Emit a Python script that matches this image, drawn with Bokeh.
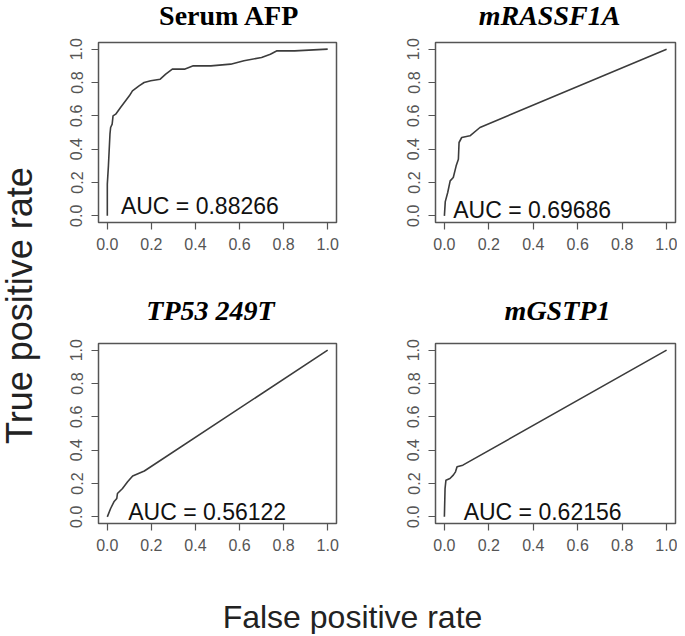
from math import pi
from bokeh.plotting import figure
from bokeh.layouts import row, column
from bokeh.models import Label, FixedTicker, Range1d
from bokeh.embed import file_html
from bokeh.resources import INLINE

# ---- data ----
titles = ["Serum AFP", "mRASSF1A", "TP53 249T", "mGSTP1"]
title_styles = ["bold", "bold italic", "bold italic", "bold italic"]
auc_labels = ["AUC = 0.88266", "AUC = 0.69686", "AUC = 0.56122", "AUC = 0.62156"]
tick_values = [0.0, 0.2, 0.4, 0.6, 0.8, 1.0]
tick_labels = ["0.0", "0.2", "0.4", "0.6", "0.8", "1.0"]

afp_fpr = [0.0, 0.0, 0.005, 0.012, 0.015, 0.022, 0.026, 0.038, 0.06, 0.083, 0.1, 0.114,
           0.144, 0.167, 0.197, 0.24, 0.265, 0.295, 0.35, 0.39, 0.47, 0.56, 0.62, 0.70,
           0.74, 0.77, 0.85, 1.0]
afp_tpr = [0.0, 0.19, 0.3, 0.49, 0.53, 0.55, 0.60, 0.61, 0.65, 0.69, 0.72, 0.75,
           0.78, 0.80, 0.81, 0.82, 0.85, 0.88, 0.88, 0.90, 0.90, 0.91, 0.93, 0.95,
           0.97, 0.99, 0.99, 1.0]

rassf_fpr = [0.0, 0.004, 0.015, 0.026, 0.04, 0.053, 0.063, 0.066, 0.078, 0.115, 0.16, 1.0]
rassf_tpr = [0.0, 0.085, 0.14, 0.21, 0.23, 0.30, 0.34, 0.44, 0.47, 0.48, 0.53, 1.0]

tp53_fpr = [0.0, 0.015, 0.03, 0.043, 0.046, 0.069, 0.092, 0.115, 0.168, 1.0]
tp53_tpr = [0.0, 0.05, 0.09, 0.11, 0.14, 0.17, 0.21, 0.245, 0.275, 1.0]

gstp_fpr = [0.0, 0.003, 0.007, 0.025, 0.04, 0.05, 0.057, 0.083, 1.0]
gstp_tpr = [0.0, 0.17, 0.22, 0.23, 0.25, 0.27, 0.30, 0.31, 1.0]

curves = [(afp_fpr, afp_tpr), (rassf_fpr, rassf_tpr), (tp53_fpr, tp53_tpr), (gstp_fpr, gstp_tpr)]
auc_pos = [(0.42, 0.06), (0.395, 0.034), (0.453, 0.03), (0.442, 0.03)]

LINE = "#3c3c3c"
BOX = "#555555"
TICKC = "#555555"


def label_fig(w, h):
    f = figure(width=w, height=h, output_backend="svg", toolbar_location=None,
               x_range=Range1d(0, w), y_range=Range1d(0, h), min_border=0,
               x_axis_type=None, y_axis_type=None)
    f.outline_line_color = None
    f.grid.visible = False
    return f


def title_fig(i, w, h, cx, cy):
    f = label_fig(w, h)
    f.add_layout(Label(x=cx, y=cy, text=titles[i], text_align="center",
                       text_baseline="middle", text_font="Liberation Serif",
                       text_font_style=title_styles[i], text_font_size="28px",
                       text_color="#000000"))
    return f


def panel(i, width, height, left, right, top, bottom):
    p = figure(width=width, height=height, output_backend="svg", toolbar_location=None,
               x_range=Range1d(-0.04, 1.04), y_range=Range1d(-0.04, 1.04),
               min_border_left=left, min_border_right=right,
               min_border_top=top, min_border_bottom=bottom)
    p.outline_line_color = BOX
    p.outline_line_width = 1.5
    p.grid.visible = False
    for ax in (p.xaxis[0], p.yaxis[0]):
        ax.ticker = FixedTicker(ticks=tick_values)
        ax.major_label_overrides = dict(zip(tick_values, tick_labels))
        ax.axis_line_color = None
        ax.major_tick_line_color = BOX
        ax.major_tick_line_width = 1.2
        ax.major_tick_out = 7
        ax.major_tick_in = 0
        ax.minor_tick_line_color = None
        ax.major_label_text_font = "Liberation Sans"
        ax.major_label_text_font_size = "16px"
        ax.major_label_text_color = TICKC
    p.xaxis[0].major_label_standoff = 8
    p.yaxis[0].major_label_standoff = 9
    p.yaxis[0].major_label_orientation = "parallel"
    fpr, tpr = curves[i]
    p.line(fpr, tpr, line_color=LINE, line_width=1.6)
    ax_, ay_ = auc_pos[i]
    p.add_layout(Label(x=ax_, y=ay_, text=auc_labels[i], text_align="center",
                       text_baseline="middle", text_font="Liberation Sans",
                       text_font_size="23px", text_color="#111111"))
    return p


t1 = title_fig(0, 337, 30, 181, 15)
t2 = title_fig(1, 292, 30, 164, 15)
t3 = title_fig(2, 337, 40, 162, 20)
t4 = title_fig(3, 292, 40, 172, 20)

p1 = panel(0, 337, 260, 50, 49, 12, 68)
p2 = panel(1, 292, 260, 50, 2, 12, 68)
p3 = panel(2, 337, 230, 50, 49, 13, 37)
p4 = panel(3, 292, 230, 50, 2, 13, 37)

ylab = label_fig(48, 560)
ylab.add_layout(Label(x=19, y=255, text="True positive rate", angle=pi / 2,
                      text_align="center", text_baseline="middle",
                      text_font="Liberation Sans", text_font_size="36px",
                      text_color="#222222"))

xlab = label_fig(677, 74)
xlab.add_layout(Label(x=352, y=18, text="False positive rate",
                      text_align="center", text_baseline="middle",
                      text_font="Liberation Sans", text_font_size="32px",
                      text_color="#222222"))

grid = column(row(t1, t2), row(p1, p2), row(t3, t4), row(p3, p4))
layout = column(row(ylab, grid), xlab)

open("out.html", "w").write(file_html(layout, INLINE))
